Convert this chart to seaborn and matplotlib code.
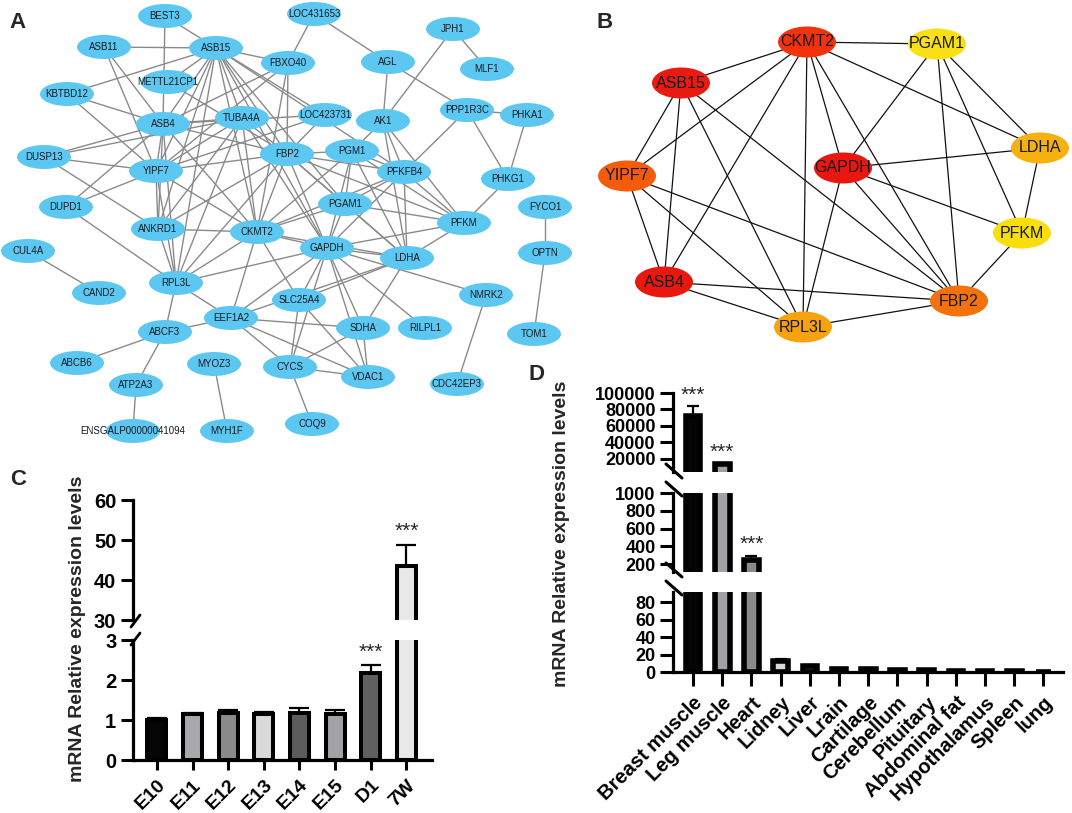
import numpy as np
import pandas as pd
import matplotlib
matplotlib.use("Agg")
import matplotlib.pyplot as plt
from matplotlib.patches import Ellipse
from matplotlib.lines import Line2D
import seaborn as sns

W, H = 1072, 813

# ---------------- Panel A: PPI network (node layout in pixel units) ----------------
a_nodes = ['BEST3', 'ASB11', 'ASB15', 'LOC431653', 'FBXO40', 'JPH1', 'MLF1', 'AGL',
           'METTL21CP1', 'KBTBD12', 'ASB4', 'TUBA4A', 'LOC423731', 'AK1', 'PPP1R3C',
           'PHKA1', 'DUSP13', 'YIPF7', 'FBP2', 'PGM1', 'PFKFB4', 'PHKG1', 'DUPD1',
           'PGAM1', 'PFKM', 'FYCO1', 'ANKRD1', 'CKMT2', 'GAPDH', 'LDHA', 'OPTN', 'CUL4A',
           'RPL3L', 'CAND2', 'NMRK2', 'SLC25A4', 'EEF1A2', 'SDHA', 'RILPL1', 'ABCF3',
           'TOM1', 'ABCB6', 'MYOZ3', 'CYCS', 'VDAC1', 'CDC42EP3', 'ATP2A3', 'COQ9',
           'ENSGALP00000041094', 'MYH1F']
a_x = [165, 104, 216, 314, 288, 453, 487, 388, 168, 67, 163, 242, 325, 383, 467,
       527, 44, 156, 287, 352, 404, 508, 66, 345, 464, 545, 158, 257, 327, 407, 545, 28,
       176, 99, 486, 299, 231, 363, 425, 165, 534, 77, 214, 290, 368, 457, 136, 312,
       133, 227]
a_y = [16, 47, 48, 14, 63, 29, 69, 62, 82, 94, 124, 118, 115, 121, 110,
       115, 157, 171, 154, 151, 172, 179, 207, 204, 223, 207, 229, 232, 248, 258, 253, 251,
       283, 293, 295, 300, 318, 328, 328, 332, 334, 363, 364, 367, 377, 384, 385, 424,
       431, 431]
a_edges = [
    ('BEST3', 'ASB15'), ('BEST3', 'ASB4'),
    ('ASB11', 'ASB15'), ('ASB11', 'ASB4'), ('ASB11', 'YIPF7'),
    ('LOC431653', 'FBXO40'), ('LOC431653', 'AGL'),
    ('JPH1', 'MLF1'), ('JPH1', 'AK1'),
    ('AGL', 'AK1'), ('AGL', 'PPP1R3C'),
    ('PPP1R3C', 'PHKA1'), ('PPP1R3C', 'PHKG1'), ('PPP1R3C', 'PFKFB4'),
    ('PHKA1', 'PHKG1'), ('PHKG1', 'PFKM'),
    ('FYCO1', 'OPTN'), ('OPTN', 'TOM1'),
    ('CUL4A', 'CAND2'),
    ('NMRK2', 'CDC42EP3'), ('NMRK2', 'GAPDH'),
    ('MYOZ3', 'MYH1F'),
    ('ATP2A3', 'ENSGALP00000041094'), ('ABCF3', 'ATP2A3'), ('ABCF3', 'ABCB6'),
    ('ABCF3', 'RPL3L'), ('ABCF3', 'EEF1A2'),
    ('RPL3L', 'EEF1A2'), ('DUPD1', 'RPL3L'),
    ('CYCS', 'COQ9'), ('CYCS', 'VDAC1'), ('CYCS', 'SDHA'), ('CYCS', 'SLC25A4'),
    ('CYCS', 'EEF1A2'), ('CYCS', 'GAPDH'),
    ('SDHA', 'VDAC1'), ('SDHA', 'GAPDH'), ('SDHA', 'LDHA'), ('SDHA', 'EEF1A2'),
    ('SLC25A4', 'VDAC1'), ('SLC25A4', 'GAPDH'), ('SLC25A4', 'LDHA'), ('SLC25A4', 'CKMT2'),
    ('RILPL1', 'GAPDH'),
    ('KBTBD12', 'ASB15'), ('KBTBD12', 'YIPF7'), ('KBTBD12', 'ASB4'),
    ('DUSP13', 'YIPF7'), ('DUSP13', 'ASB4'), ('DUSP13', 'TUBA4A'), ('DUSP13', 'ANKRD1'),
    ('DUPD1', 'YIPF7'), ('DUPD1', 'ASB4'),
    ('ASB15', 'ASB4'), ('ASB15', 'YIPF7'), ('ASB15', 'ANKRD1'), ('ASB15', 'CKMT2'),
    ('ASB15', 'FBP2'), ('ASB15', 'TUBA4A'), ('ASB15', 'GAPDH'), ('ASB15', 'RPL3L'),
    ('ASB15', 'LOC423731'), ('ASB15', 'FBXO40'), ('ASB15', 'PGAM1'), ('ASB15', 'PFKFB4'),
    ('ASB15', 'METTL21CP1'),
    ('FBXO40', 'ASB4'), ('FBXO40', 'FBP2'), ('FBXO40', 'YIPF7'), ('FBXO40', 'CKMT2'),
    ('LOC423731', 'ASB4'), ('LOC423731', 'YIPF7'), ('LOC423731', 'FBP2'),
    ('TUBA4A', 'ASB4'), ('TUBA4A', 'YIPF7'), ('TUBA4A', 'CKMT2'), ('TUBA4A', 'ANKRD1'),
    ('TUBA4A', 'FBP2'), ('TUBA4A', 'RPL3L'), ('TUBA4A', 'GAPDH'),
    ('AK1', 'PGM1'), ('AK1', 'PFKFB4'), ('AK1', 'LDHA'), ('AK1', 'PFKM'),
    ('PGM1', 'FBP2'), ('PGM1', 'GAPDH'), ('PGM1', 'PGAM1'), ('PGM1', 'PFKFB4'),
    ('PGM1', 'CKMT2'), ('PGM1', 'LDHA'), ('PGM1', 'PFKM'),
    ('FBP2', 'CKMT2'), ('FBP2', 'GAPDH'), ('FBP2', 'PGAM1'), ('FBP2', 'LDHA'),
    ('FBP2', 'PFKM'), ('FBP2', 'PFKFB4'), ('FBP2', 'RPL3L'), ('FBP2', 'ASB4'),
    ('FBP2', 'YIPF7'), ('FBP2', 'ANKRD1'),
    ('PFKFB4', 'PFKM'), ('PFKFB4', 'GAPDH'), ('PFKFB4', 'LDHA'), ('PFKFB4', 'PGAM1'),
    ('PFKFB4', 'CKMT2'),
    ('PGAM1', 'GAPDH'), ('PGAM1', 'LDHA'), ('PGAM1', 'PFKM'), ('PGAM1', 'CKMT2'),
    ('GAPDH', 'LDHA'), ('GAPDH', 'PFKM'), ('GAPDH', 'CKMT2'), ('GAPDH', 'VDAC1'),
    ('GAPDH', 'EEF1A2'), ('GAPDH', 'RPL3L'),
    ('LDHA', 'PFKM'), ('LDHA', 'CKMT2'),
    ('CKMT2', 'ANKRD1'), ('CKMT2', 'RPL3L'), ('CKMT2', 'YIPF7'), ('CKMT2', 'ASB4'),
    ('CKMT2', 'EEF1A2'),
    ('ANKRD1', 'YIPF7'), ('ANKRD1', 'ASB4'), ('ANKRD1', 'RPL3L'),
    ('YIPF7', 'ASB4'), ('YIPF7', 'RPL3L'), ('ASB4', 'RPL3L'),
    ('METTL21CP1', 'FBP2'),
    ('EEF1A2', 'VDAC1'), ('EEF1A2', 'LDHA'),
]

# ---------------- Panel B: hub genes ----------------
b_nodes = ['CKMT2', 'PGAM1', 'ASB15', 'LDHA', 'GAPDH', 'YIPF7', 'PFKM', 'ASB4', 'FBP2', 'RPL3L']
b_x = [807, 937, 681, 1040, 843, 627, 1022, 664, 959, 803]
b_y = [42, 44, 83, 148, 168, 176, 233, 282, 301, 327]
b_colors = ['#f2320c', '#f8e014', '#e81a12', '#f6b10e', '#e8170f', '#f45c0c',
            '#f9dd0c', '#e8180f', '#f4720c', '#f5a20e']
b_edges = [
    ('CKMT2', 'PGAM1'), ('CKMT2', 'ASB15'), ('CKMT2', 'YIPF7'), ('CKMT2', 'ASB4'),
    ('CKMT2', 'RPL3L'), ('CKMT2', 'GAPDH'), ('CKMT2', 'FBP2'), ('CKMT2', 'LDHA'),
    ('PGAM1', 'GAPDH'), ('PGAM1', 'FBP2'), ('PGAM1', 'PFKM'), ('PGAM1', 'LDHA'),
    ('ASB15', 'YIPF7'), ('ASB15', 'ASB4'), ('ASB15', 'RPL3L'), ('ASB15', 'FBP2'),
    ('GAPDH', 'LDHA'), ('GAPDH', 'PFKM'), ('GAPDH', 'FBP2'), ('GAPDH', 'RPL3L'),
    ('YIPF7', 'ASB4'), ('YIPF7', 'RPL3L'), ('YIPF7', 'FBP2'),
    ('ASB4', 'FBP2'), ('ASB4', 'RPL3L'), ('RPL3L', 'FBP2'),
    ('LDHA', 'PFKM'), ('PFKM', 'FBP2'),
]

# ---------------- Panel C: developmental stages ----------------
c_stages = ['E10', 'E11', 'E12', 'E13', 'E14', 'E15', 'D1', '7W']
c_means = [1.0, 1.16, 1.17, 1.16, 1.17, 1.16, 2.17, 43.6]
c_errs = [0.05, 0.01, 0.07, 0.03, 0.12, 0.08, 0.21, 5.2]
c_colors = ['#050505', '#a9a9ad', '#8a8a8a', '#d9d9d9', '#5c5c5c', '#a2a2a6', '#606060', '#e8e8e8']
c_sig = ['', '', '', '', '', '', '***', '***']

# ---------------- Panel D: tissues ----------------
d_tissues = ['Breast muscle', 'Leg muscle', 'Heart', 'Lidney', 'Liver', 'Lrain', 'Cartilage',
             'Cerebellum', 'Pituitary', 'Abdominal fat', 'Hypothalamus', 'Spleen', 'lung']
d_means = [72000, 13500, 240, 12.5, 7.0, 4.0, 3.5, 2.5, 2.0, 1.5, 0.8, 0.6, 0.5]
d_errs = [12000, 1000, 55, 3.0, 1.0, 1.0, 0.8, 0.5, 0.5, 0.4, 0.2, 0.2, 0.1]
d_colors = ['#050505', '#a2a2a6', '#8a8a8a', '#d9d9d9', '#5c5c5c', '#a9a9ad', '#606060',
            '#e8e8e8', '#8a8a8a', '#5c5c5c', '#a9a9ad', '#d9d9d9', '#606060']
d_sig = ['***', '***', '***', '', '', '', '', '', '', '', '', '', '']

sns.set_style("ticks")
plt.rcParams['font.family'] = ['Liberation Sans', 'DejaVu Sans']

fig = plt.figure(figsize=(W / 100, H / 100), dpi=100)


def rect(x0, y0, x1, y1):
    return [x0 / W, 1 - y1 / H, (x1 - x0) / W, (y1 - y0) / H]


def fig_line(x0, y0, x1, y1, lw=2.0):
    fig.add_artist(Line2D([x0 / W, x1 / W], [1 - y0 / H, 1 - y1 / H], color='black',
                          lw=lw, transform=fig.transFigure, zorder=10))


net = fig.add_axes([0, 0, 1, 1])
net.set_xlim(0, W)
net.set_ylim(H, 0)
net.axis('off')


def draw_net(names, xs, ys, edges, colors, ew, eh, ecol, elw, fs):
    pos = {n: (x, y) for n, x, y in zip(names, xs, ys)}
    for a, b in edges:
        net.plot([pos[a][0], pos[b][0]], [pos[a][1], pos[b][1]], color=ecol, lw=elw,
                 zorder=1, solid_capstyle='round')
    for n, c in zip(names, colors):
        net.add_patch(Ellipse(pos[n], ew, eh, facecolor=c, edgecolor='none', zorder=2))
        net.text(pos[n][0], pos[n][1], n, ha='center', va='center', fontsize=fs,
                 color='#151a22', zorder=3)


draw_net(a_nodes, a_x, a_y, a_edges, ['#5cc8f2'] * len(a_nodes), 54, 24, '#8a8a8a', 1.0, 7)
draw_net(b_nodes, b_x, b_y, b_edges, b_colors, 58, 31, '#111111', 0.9, 11.5)


def bar_segment(px, ylim, yticks, cats, means, errs, colors, sig, xlim, bw, blw, cap,
                bottom, ytick_len, xtick_len, xfs, yfs, star_off):
    ax = fig.add_axes(rect(*px))
    ax.set_facecolor('none')
    df = pd.DataFrame({'cat': cats, 'val': means})
    sns.barplot(data=df, x='cat', y='val', hue='cat', palette=dict(zip(cats, colors)),
                legend=False, width=bw, edgecolor='black', linewidth=blw, saturation=1,
                errorbar=None, ax=ax)
    idx = np.arange(len(cats))
    ax.errorbar(idx, means, yerr=[np.zeros(len(cats)), errs], fmt='none', ecolor='black',
                elinewidth=1.6, capsize=cap, capthick=1.6, zorder=3)
    ax.set_xlim(*xlim)
    ax.set_ylim(*ylim)
    ax.set_xlabel('')
    ax.set_ylabel('')
    for s in ['top', 'right']:
        ax.spines[s].set_visible(False)
    for s in ['left', 'bottom']:
        ax.spines[s].set_linewidth(2.3)
        ax.spines[s].set_color('black')
    ax.set_yticks(yticks)
    ax.set_yticklabels([str(t) for t in yticks], fontweight='bold', fontsize=yfs)
    ax.tick_params(axis='y', length=ytick_len, width=2.2, pad=3, colors='black')
    if bottom:
        ax.set_xticks(idx)
        ax.set_xticklabels(cats, rotation=45, ha='right', va='top',
                           rotation_mode='anchor', fontweight='bold', fontsize=xfs)
        ax.tick_params(axis='x', length=xtick_len, width=2.2, pad=5, colors='black')
    else:
        ax.spines['bottom'].set_visible(False)
        ax.tick_params(axis='x', bottom=False, labelbottom=False)
    for i, s in enumerate(sig):
        top = means[i] + errs[i]
        if s and ylim[0] < top < ylim[1]:
            ax.annotate(s, (i, top), xytext=(0, star_off), textcoords='offset points',
                        ha='center', va='bottom', fontsize=15)
    return ax


# Panel C (broken y axis)
c_xlim = (-0.67, 7.72)
bar_segment((133, 500, 432, 620), (30, 60), [30, 40, 50, 60], c_stages, c_means, c_errs,
            c_colors, c_sig, c_xlim, 0.53, 2.9, 7, False, 9, 7, 14, 14.5, 3)
bar_segment((133, 640, 432, 760), (0, 3), [0, 1, 2, 3], c_stages, c_means, c_errs,
            c_colors, c_sig, c_xlim, 0.53, 2.9, 7, True, 9, 7, 14, 14.5, 2)
fig_line(131, 627, 140, 615)
fig_line(131, 645, 140, 633)
fig.text(78 / W, 1 - 629 / H, 'mRNA Relative expression levels', rotation=90,
         ha='center', va='center', fontsize=14, fontweight='bold')

# Panel D (two breaks)
d_xlim = (-0.685, 12.67)
bar_segment((673, 393, 1063, 472), (4000, 100000), [20000, 40000, 60000, 80000, 100000],
            d_tissues, d_means, d_errs, d_colors, d_sig, d_xlim, 0.5, 4.0, 4, False, 9.5, 10,
            14.5, 13, 1)
bar_segment((673, 493, 1063, 572), (110, 1000), [200, 400, 600, 800, 1000],
            d_tissues, d_means, d_errs, d_colors, d_sig, d_xlim, 0.5, 4.0, 4, False, 9.5, 10,
            14.5, 13, 1)
bar_segment((673, 592, 1063, 672), (0, 92), [0, 20, 40, 60, 80],
            d_tissues, d_means, d_errs, d_colors, d_sig, d_xlim, 0.5, 4.0, 4, True, 9.5, 10,
            14.5, 13, 1)
for yc in [471, 489, 570, 588]:
    fig_line(666, yc - 7, 682, yc + 7, lw=2.2)
fig.text(561 / W, 1 - 534 / H, 'mRNA Relative expression levels', rotation=90,
         ha='center', va='center', fontsize=14, fontweight='bold')

# panel letters
for lab, (lx, ly) in zip(['A', 'B', 'C', 'D'], [(18, 22), (605, 22), (18, 479), (537, 374)]):
    fig.text(lx / W, 1 - ly / H, lab, ha='center', va='center', fontsize=16,
             fontweight='bold')

fig.savefig('out.png', dpi=100, facecolor='white')
